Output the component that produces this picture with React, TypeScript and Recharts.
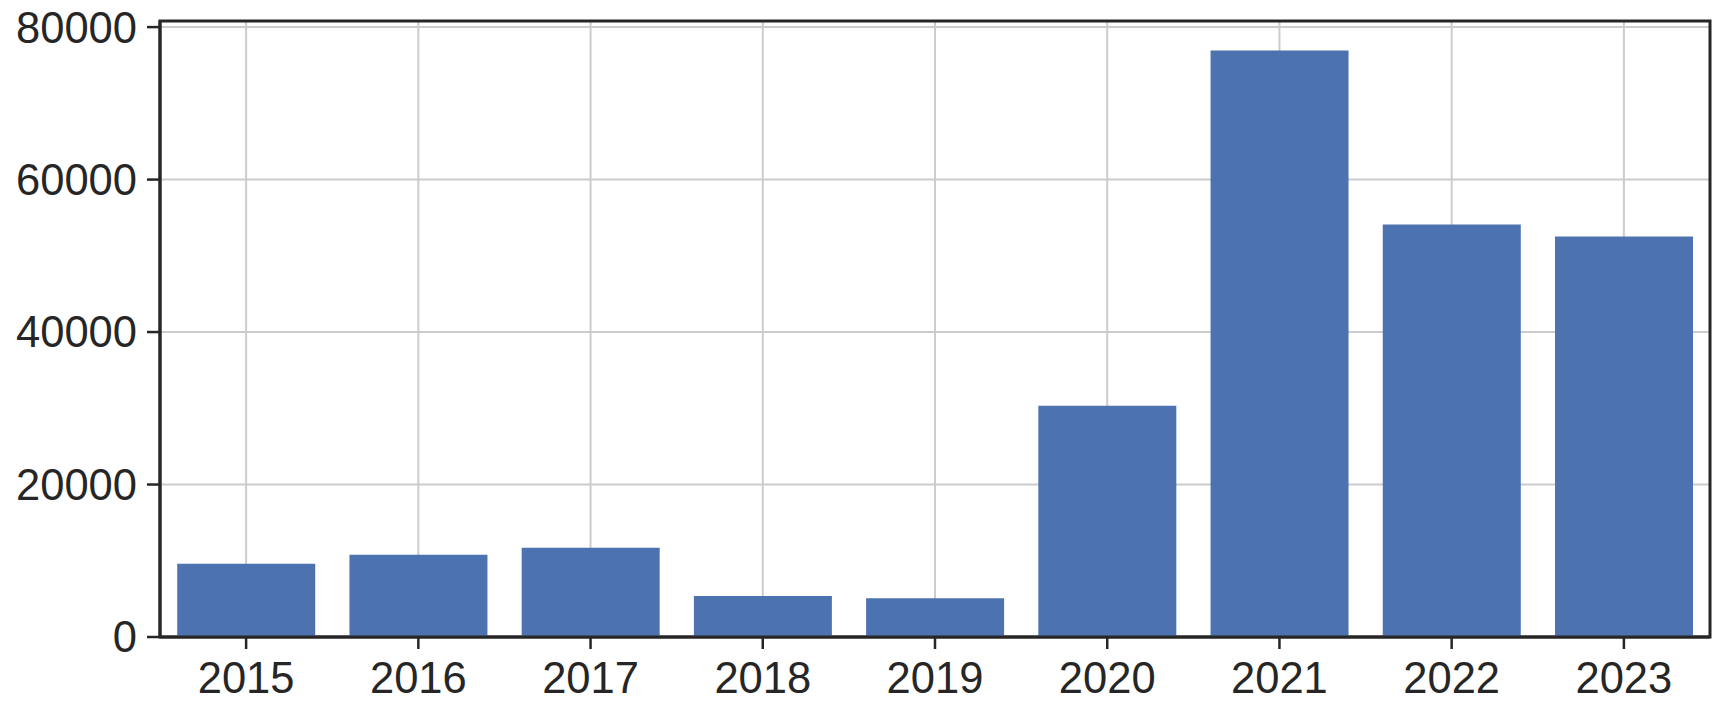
import {
  Bar,
  BarChart,
  CartesianGrid,
  ReferenceArea,
  XAxis,
  YAxis,
} from "recharts";

const years = ["2015", "2016", "2017", "2018", "2019", "2020", "2021", "2022", "2023"];
const counts = [9600, 10780, 11700, 5380, 5080, 30330, 76940, 54100, 52520];
const yTicks = [0, 20000, 40000, 60000, 80000];

const data = years.map((year, i) => ({ year, count: counts[i] }));

const ink = "#262626";
const font = "'Liberation Sans', Arial, sans-serif";

export default function App() {
  return (
    <div style={{ position: "absolute", left: 0, top: 0, background: "#fff" }}>
      <BarChart
        width={1727}
        height={708}
        data={data}
        margin={{ top: 21, right: 17, left: 0, bottom: 0 }}
        barCategoryGap="10%"
      >
        <CartesianGrid stroke="#cccccc" strokeWidth={2} />
        <XAxis
          dataKey="year"
          height={71}
          tickSize={12}
          tickMargin={13}
          interval={0}
          axisLine={{ stroke: ink, strokeWidth: 3 }}
          tickLine={{ stroke: ink, strokeWidth: 2.5 }}
          tick={{ fill: ink, fontSize: 43.5, fontFamily: font }}
        />
        <YAxis
          width={160}
          domain={[0, 80800]}
          ticks={yTicks}
          tickSize={13}
          tickMargin={10}
          allowDataOverflow
          axisLine={{ stroke: ink, strokeWidth: 3 }}
          tickLine={{ stroke: ink, strokeWidth: 2.5 }}
          tick={{ fill: ink, fontSize: 43.5, fontFamily: font }}
        />
        <Bar dataKey="count" fill="#4c72b0" isAnimationActive={false} />
        <ReferenceArea
          y1={0}
          y2={80800}
          fill="none"
          stroke={ink}
          strokeWidth={3}
          fillOpacity={0}
        />
      </BarChart>
    </div>
  );
}
